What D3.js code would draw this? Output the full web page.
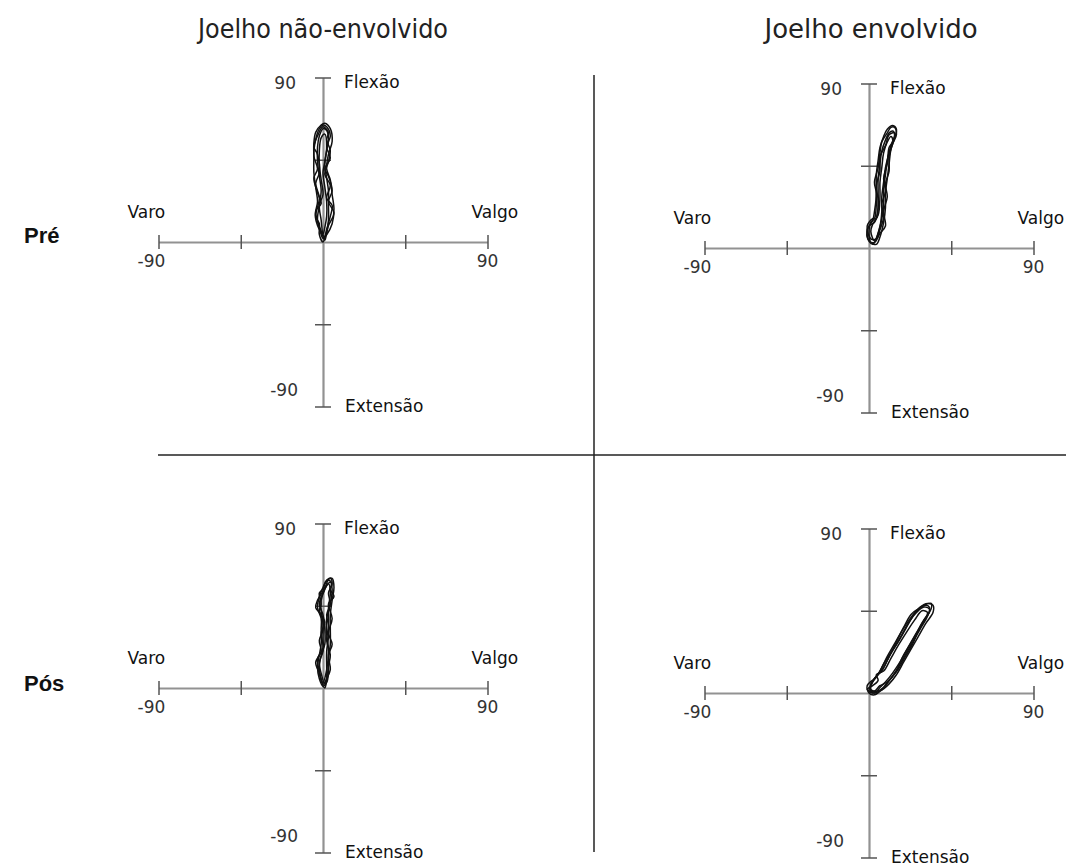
<!DOCTYPE html>
<html>
<head>
<meta charset="utf-8">
<script src="https://cdn.jsdelivr.net/npm/d3@7"></script>
<style>
  body { margin: 0; background: #fff; }
  svg { display: block; }
</style>
</head>
<body>
<script>
// chart data (degrees: x = varo/valgo, y = flexão/extensão)
const colTitles = ["Joelho não-envolvido", "Joelho envolvido"];
const rowTitles = ["Pré", "Pós"];
const axisTicks = [-90, -45, 45, 90];
const axisEnds = ["-90", "90"];
const dirLabels = ["Varo", "Valgo", "Flexão", "Extensão"];

const preNaoEnvolvido = [
  [[0,2],[-2,8],[-4,16],[-3,22],[-4,30],[-5,38],[-5,46],[-5,54],[-4,60],[-1,64],[1,65],[4,62],[5,55],[3,48],[2,40],[4,34],[5,26],[6,18],[5,10],[2,4]],
  [[1,1],[-1,6],[-3,12],[-2,20],[-1,28],[-2,36],[-3,44],[-3,52],[-2,58],[0,62],[2,61],[3,56],[2,50],[1,42],[2,35],[3,28],[3,20],[3,12],[2,5]],
  [[0,4],[-1,12],[-2,20],[0,26],[-1,34],[-2,42],[-2,50],[-1,57],[1,59],[2,52],[1,44],[0,38],[1,30],[2,22],[2,14],[1,8]],
  [[1,3],[-3,9],[-4,17],[-1,21],[-3,27],[-5,35],[-3,40],[-5,47],[-4,56],[-2,62],[0,64],[2,63],[4,58],[2,52],[4,46],[1,40],[3,36],[5,28],[3,22],[6,16],[3,9]],
  [[0,0],[-2,4],[-2,10],[-4,14],[-2,24],[-4,32],[-2,38],[-3,48],[-5,52],[-3,58],[0,63],[3,60],[2,56],[4,50],[3,44],[1,37],[4,31],[2,24],[5,20],[4,14],[2,7]]
];
const preEnvolvido = [
  [[1,3],[0,8],[1,14],[3,16],[4,24],[4,32],[4,40],[5,48],[6,55],[8,61],[10,65],[13,67],[15,65],[14,60],[12,54],[11,46],[10,38],[9,30],[9,22],[8,14],[6,6],[4,2]],
  [[2,2],[-1,6],[0,12],[3,14],[5,22],[5,30],[5,38],[6,46],[7,53],[9,59],[11,63],[13,64],[14,62],[12,56],[10,48],[9,40],[8,32],[8,24],[7,16],[5,8]],
  [[3,4],[1,9],[2,13],[5,18],[6,28],[6,36],[7,44],[8,52],[10,58],[12,61],[13,59],[11,52],[9,44],[8,36],[7,28],[7,20],[6,12]],
  [[0,4],[-1,10],[2,15],[3,20],[4,30],[3,36],[5,44],[6,52],[7,58],[10,63],[12,66],[14,66],[15,62],[13,57],[11,50],[11,42],[9,35],[10,28],[8,20],[9,12],[6,8],[3,3]],
  [[1,5],[-1,12],[2,16],[4,16],[5,26],[4,34],[6,42],[6,50],[9,56],[11,62],[14,63],[13,58],[11,55],[10,46],[8,38],[9,31],[7,24],[8,17],[6,10],[4,5]]
];
const posNaoEnvolvido = [
  [[0,1],[-2,5],[-3,12],[-2,18],[-1,24],[-1,32],[-1,38],[-3,44],[-2,50],[0,55],[2,59],[5,60],[6,55],[5,48],[4,40],[4,32],[4,24],[3,16],[3,8],[2,3]],
  [[1,2],[-1,8],[-2,14],[0,20],[0,28],[0,36],[-1,42],[-1,48],[1,54],[3,57],[4,52],[3,44],[3,36],[3,28],[2,20],[2,12],[2,6]],
  [[0,3],[-2,10],[-1,18],[1,24],[1,32],[0,40],[-2,46],[0,52],[2,56],[4,58],[5,54],[4,46],[2,38],[2,30],[3,20],[2,10]],
  [[0,2],[-2,8],[-4,14],[-1,20],[-2,26],[0,32],[-1,40],[-4,44],[-3,48],[0,53],[1,57],[4,60],[5,58],[4,54],[6,50],[3,46],[5,38],[3,30],[5,24],[3,18],[4,10],[2,5]],
  [[1,0],[-1,4],[-2,9],[-3,16],[0,22],[-1,30],[1,36],[-2,42],[-1,46],[-2,52],[1,55],[3,59],[5,57],[3,52],[4,46],[2,40],[3,34],[2,26],[4,18],[3,12],[2,4]]
];
const posEnvolvido = [
  [[0,1],[2,6],[5,10],[8,16],[12,22],[16,28],[20,35],[24,42],[28,47],[32,49],[35,48],[35,44],[31,38],[27,31],[23,24],[19,17],[15,10],[11,5],[6,1],[2,0]],
  [[1,2],[3,8],[7,12],[10,18],[14,25],[18,32],[22,39],[26,44],[30,47],[33,46],[32,42],[28,35],[24,28],[20,21],[16,14],[12,8],[8,3],[4,1]],
  [[-1,2],[2,4],[5,7],[4,10],[8,12],[12,19],[16,26],[21,34],[25,40],[29,45],[32,44],[29,38],[25,31],[21,24],[17,17],[13,11],[9,6],[6,3],[3,0]],
  [[0,0],[-1,4],[3,8],[6,12],[10,20],[14,27],[18,34],[22,40],[26,45],[30,48],[34,49],[34,46],[31,41],[27,34],[24,27],[20,20],[16,13],[11,7],[7,2],[3,-1]],
  [[1,1],[1,5],[4,9],[8,14],[12,22],[16,30],[19,36],[23,43],[27,46],[31,48],[33,47],[33,44],[30,40],[26,33],[22,26],[18,19],[15,12],[10,6],[6,4],[3,1]]
];

const width = 1067, height = 867;
const half = 164.5;

const panels = [
  {row: 0, col: 0, ox: 323, oy: 242, loops: preNaoEnvolvido},
  {row: 0, col: 1, ox: 869, oy: 248, loops: preEnvolvido},
  {row: 1, col: 0, ox: 323, oy: 688, loops: posNaoEnvolvido},
  {row: 1, col: 1, ox: 869, oy: 693, loops: posEnvolvido}
];

const svg = d3.select("body").append("svg")
  .attr("width", width)
  .attr("height", height);

const labelFont = "'DejaVu Sans', sans-serif";

// column titles
svg.selectAll(".col-title")
  .data(colTitles)
  .enter()
  .append("text")
  .attr("class", "col-title")
  .attr("x", (d, i) => i === 0 ? 323 : 871)
  .attr("y", 38)
  .attr("text-anchor", "middle")
  .attr("textLength", (d, i) => i === 0 ? 250 : 213)
  .attr("lengthAdjust", "spacingAndGlyphs")
  .style("font-family", "'DejaVu Sans Condensed', 'DejaVu Sans', sans-serif")
  .style("font-size", "26px")
  .style("fill", "#222")
  .text(d => d);

// row titles
svg.selectAll(".row-title")
  .data(rowTitles)
  .enter()
  .append("text")
  .attr("class", "row-title")
  .attr("x", 24)
  .attr("y", (d, i) => i === 0 ? 243 : 691)
  .style("font-family", "'Liberation Sans', Arial, sans-serif")
  .style("font-weight", "bold")
  .style("font-size", "22px")
  .style("fill", "#111")
  .text(d => d);

// separators
svg.append("line")
  .attr("x1", 158).attr("x2", 1066)
  .attr("y1", 455).attr("y2", 455)
  .attr("stroke", "#222").attr("stroke-width", 1.5);
svg.append("line")
  .attr("x1", 594).attr("x2", 594)
  .attr("y1", 75).attr("y2", 852)
  .attr("stroke", "#222").attr("stroke-width", 1.5);

panels.forEach(p => {
  let x = d3.scaleLinear().domain([-90, 90]).range([p.ox - half, p.ox + half]);
  let y = d3.scaleLinear().domain([-90, 90]).range([p.oy + half, p.oy - half]);

  let g = svg.append("g").attr("class", "panel");

  let xAxis = g.append("g")
    .attr("transform", `translate(0, ${p.oy})`)
    .call(d3.axisBottom(x).tickValues(axisTicks).tickSizeOuter(0).tickFormat(""));
  xAxis.selectAll(".tick line").attr("y1", -7).attr("y2", 7);

  let yAxis = g.append("g")
    .attr("transform", `translate(${p.ox}, 0)`)
    .call(d3.axisLeft(y).tickValues(axisTicks).tickSizeOuter(0).tickFormat(""));
  yAxis.selectAll(".tick line").attr("x1", -8).attr("x2", 8);

  g.selectAll(".domain").attr("stroke", "#929292").attr("stroke-width", 2.2);
  g.selectAll(".tick line").attr("stroke", "#555").attr("stroke-width", 1.5);

  let lab = (tx, ty, anchor, t) => g.append("text")
    .attr("x", tx).attr("y", ty)
    .attr("text-anchor", anchor)
    .style("font-family", labelFont)
    .style("font-size", "17px")
    .style("fill", "#111")
    .text(t);

  // end values
  lab(x(-90) - 7, p.oy + 25, "middle", axisEnds[0]).style("fill", "#333");
  lab(x(90), p.oy + 25, "middle", axisEnds[1]).style("fill", "#333");
  lab(p.ox - 27, y(90) + 11, "end", axisEnds[1]).style("fill", "#333");
  lab(p.ox - 25, y(-90) - 11, "end", axisEnds[0]).style("fill", "#333");

  // direction names
  lab(x(-90) - 31, p.oy - 24, "start", dirLabels[0]);
  lab(x(90) - 16, p.oy - 24, "start", dirLabels[1]);
  lab(p.ox + 21, y(90) + 10, "start", dirLabels[2]);
  lab(p.ox + 22, y(-90) + 5, "start", dirLabels[3]);

  let line = d3.line()
    .x(d => x(d[0]))
    .y(d => y(d[1]))
    .curve(d3.curveCatmullRomClosed.alpha(0.5));

  g.selectAll(".loop")
    .data(p.loops)
    .enter()
    .append("path")
    .attr("class", "loop")
    .attr("d", line)
    .attr("fill", "none")
    .attr("stroke", "#111")
    .attr("stroke-width", 1.5);
});
</script>
</body>
</html>
